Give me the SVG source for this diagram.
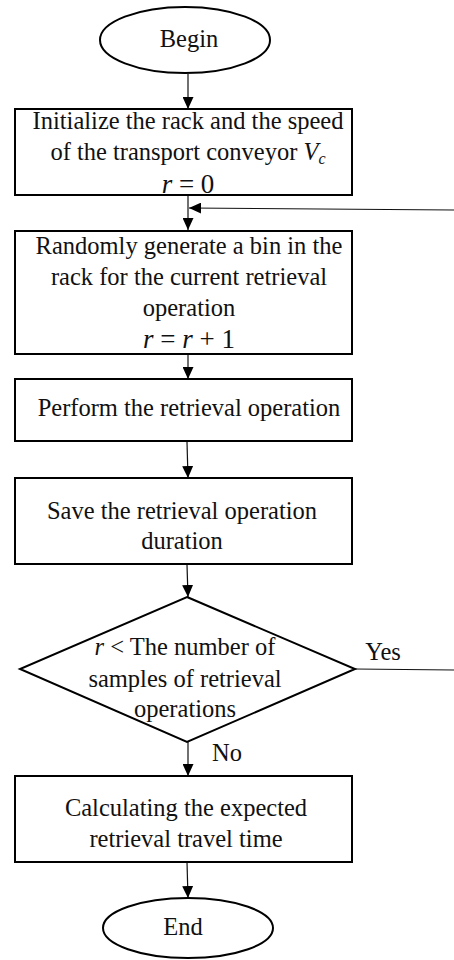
<svg xmlns="http://www.w3.org/2000/svg" width="454" height="960" viewBox="0 0 454 960">
<style>
.n{fill:#fff;stroke:#000;stroke-width:2}
.t{font-family:"Liberation Serif","Times New Roman",serif;font-size:24.5px;fill:#111;text-anchor:middle}
.m{font-size:27px}
.c{stroke:#111;stroke-width:1.2;fill:none}
.ar{marker-end:url(#ah)}
</style>
<defs>
<marker id="ah" markerWidth="12" markerHeight="11" refX="12" refY="5.5" orient="auto" markerUnits="userSpaceOnUse">
<path d="M0,0 L12,5.5 L0,11 Z" fill="#000"/>
</marker>
</defs>
<rect width="454" height="960" fill="#fff"/>
<g id="connectors">
<line class="c ar" x1="188" y1="74" x2="188" y2="109"/>
<line class="c ar" x1="188" y1="195" x2="188" y2="230"/>
<line class="c ar" x1="454" y1="210" x2="189" y2="208"/>
<line class="c ar" x1="188" y1="355" x2="188" y2="379"/>
<line class="c ar" x1="187" y1="442" x2="188" y2="478"/>
<line class="c ar" x1="187" y1="565" x2="188" y2="597"/>
<line class="c" x1="355" y1="669" x2="454" y2="670"/>
<line class="c ar" x1="188" y1="742" x2="188" y2="776"/>
<line class="c ar" x1="187" y1="862" x2="188" y2="898"/>
<text class="t" x="383" y="660">Yes</text>
<text class="t" x="227" y="761">No</text>
</g>
<g id="begin">
<ellipse class="n" cx="185" cy="40" rx="85" ry="33"/>
<text class="t" x="189" y="47">Begin</text>
</g>
<g id="init">
<rect class="n" x="15" y="109" width="337" height="86"/>
<text class="t" x="188" y="129">Initialize the rack and the speed</text>
<text class="t" x="188" y="160">of the transport conveyor <tspan font-style="italic">V</tspan><tspan font-style="italic" font-size="16" dy="4">c</tspan></text>
<text class="t m" x="188" y="193"><tspan font-style="italic">r</tspan> = 0</text>
</g>
<g id="generate">
<rect class="n" x="15" y="231" width="337" height="123"/>
<text class="t" x="189" y="254">Randomly generate a bin in the</text>
<text class="t" x="189" y="285">rack for the current retrieval</text>
<text class="t" x="189" y="316">operation</text>
<text class="t m" x="189" y="348"><tspan font-style="italic">r</tspan> = <tspan font-style="italic">r</tspan> + 1</text>
</g>
<g id="perform">
<rect class="n" x="15" y="379" width="337" height="62"/>
<text class="t" x="189" y="416">Perform the retrieval operation</text>
</g>
<g id="save">
<rect class="n" x="15" y="478" width="337" height="86"/>
<text class="t" x="182" y="519">Save the retrieval operation</text>
<text class="t" x="182" y="549">duration</text>
</g>
<g id="decision">
<polygon class="n" points="187,597 355,669 187,742 20,669"/>
<text class="t" x="185" y="655"><tspan font-style="italic">r</tspan> &lt; The number of</text>
<text class="t" x="185" y="687">samples of retrieval</text>
<text class="t" x="185" y="717">operations</text>
</g>
<g id="calc">
<rect class="n" x="15" y="776" width="337" height="86"/>
<text class="t" x="186" y="816">Calculating the expected</text>
<text class="t" x="186" y="847">retrieval travel time</text>
</g>
<g id="end">
<ellipse class="n" cx="188" cy="928" rx="85" ry="30"/>
<text class="t" x="183" y="935">End</text>
</g>
</svg>
